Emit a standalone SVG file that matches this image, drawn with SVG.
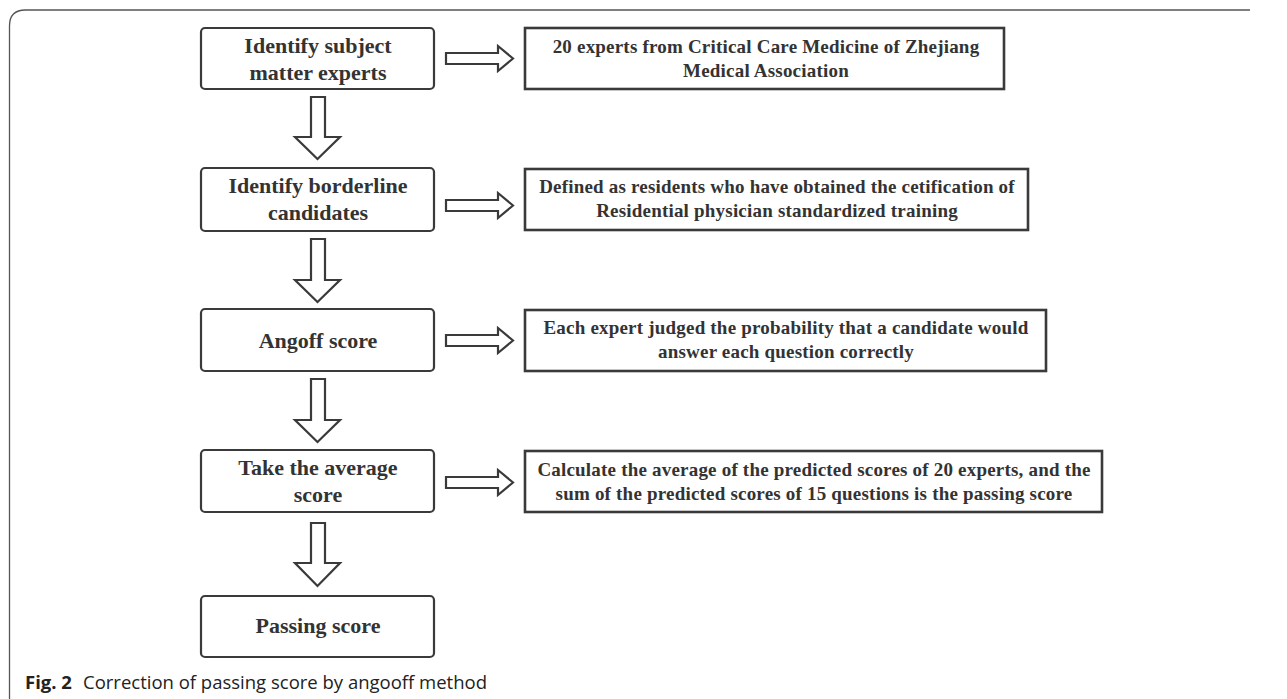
<svg xmlns="http://www.w3.org/2000/svg" width="1287" height="699" viewBox="0 0 1287 699">
<style>
.frame{fill:none;stroke:#555;stroke-width:1.3}
.lbox{fill:#fff;stroke:#3a3a3a;stroke-width:2.2}
.rbox{fill:#fff;stroke:#3a3a3a;stroke-width:2.6}
.arr{fill:#fff;stroke:#3a3a3a;stroke-width:2.2;stroke-linejoin:miter}
.lt{font-family:"Liberation Serif","Times New Roman",serif;font-weight:bold;font-size:22px;fill:#333;text-anchor:middle}
.rt{font-family:"Liberation Serif","Times New Roman",serif;font-weight:bold;font-size:19px;fill:#333;text-anchor:middle;letter-spacing:0.2px}
.cap{font-family:"Open Sans","Noto Sans",sans-serif;font-size:18.5px;fill:#222}
</style>
<rect width="1287" height="699" fill="#fff"/>
<path class="frame" d="M9.5 699 L9.5 26 Q9.5 10 25.5 10 L1250 10"/>

<g id="connectors">
<path class="arr" d="M311 97 H325 V137 H340 L317.5 159 L295 137 H311 Z"/>
<path class="arr" d="M311 239 H325 V280 H340 L317.5 302 L295 280 H311 Z"/>
<path class="arr" d="M311 379 H325 V420 H340 L317.5 442 L295 420 H311 Z"/>
<path class="arr" d="M311 523 H325 V563 H340 L317.5 586 L295 563 H311 Z"/>
<path class="arr" d="M446 53 H498 V46 L513 58.5 L498 71 V64 H446 Z"/>
<path class="arr" d="M446 200 H498 V193 L513 205.5 L498 218 V211 H446 Z"/>
<path class="arr" d="M446 335 H498 V328 L513 340.5 L498 353 V346 H446 Z"/>
<path class="arr" d="M446 477 H498 V470 L513 482.5 L498 495 V488 H446 Z"/>
</g>

<g id="n1">
<rect class="lbox" x="201" y="28" width="233" height="61" rx="4"/>
<text class="lt" x="318" y="53">Identify subject</text>
<text class="lt" x="318" y="80">matter experts</text>
</g>
<g id="n2">
<rect class="lbox" x="201" y="168" width="233" height="63" rx="4"/>
<text class="lt" x="318" y="193">Identify borderline</text>
<text class="lt" x="318" y="220">candidates</text>
</g>
<g id="n3">
<rect class="lbox" x="201" y="309" width="233" height="62" rx="4"/>
<text class="lt" x="318" y="348">Angoff score</text>
</g>
<g id="n4">
<rect class="lbox" x="201" y="450" width="233" height="62" rx="4"/>
<text class="lt" x="318" y="475">Take the average</text>
<text class="lt" x="318" y="502">score</text>
</g>
<g id="n5">
<rect class="lbox" x="201" y="596" width="233" height="61" rx="4"/>
<text class="lt" x="318" y="633">Passing score</text>
</g>

<g id="r1">
<rect class="rbox" x="525" y="28" width="479" height="61"/>
<text class="rt" x="766" y="53">20 experts from Critical Care Medicine of Zhejiang</text>
<text class="rt" x="766" y="77">Medical Association</text>
</g>
<g id="r2">
<rect class="rbox" x="525" y="169" width="503" height="61"/>
<text class="rt" x="777" y="193">Defined as residents who have obtained the cetification of</text>
<text class="rt" x="777" y="217">Residential physician standardized training</text>
</g>
<g id="r3">
<rect class="rbox" x="525" y="310" width="521" height="61"/>
<text class="rt" x="786" y="334">Each expert judged the probability that a candidate would</text>
<text class="rt" x="786" y="358">answer each question correctly</text>
</g>
<g id="r4">
<rect class="rbox" x="525" y="451" width="577" height="61"/>
<text class="rt" x="814" y="476">Calculate the average of the predicted scores of 20 experts, and the</text>
<text class="rt" x="814" y="500">sum of the predicted scores of 15 questions is the passing score</text>
</g>

<g id="caption">
<text class="cap" x="25" y="689"><tspan font-weight="bold">Fig. 2</tspan></text>
<text class="cap" x="83" y="689">Correction of passing score by angooff method</text>
</g>
</svg>
